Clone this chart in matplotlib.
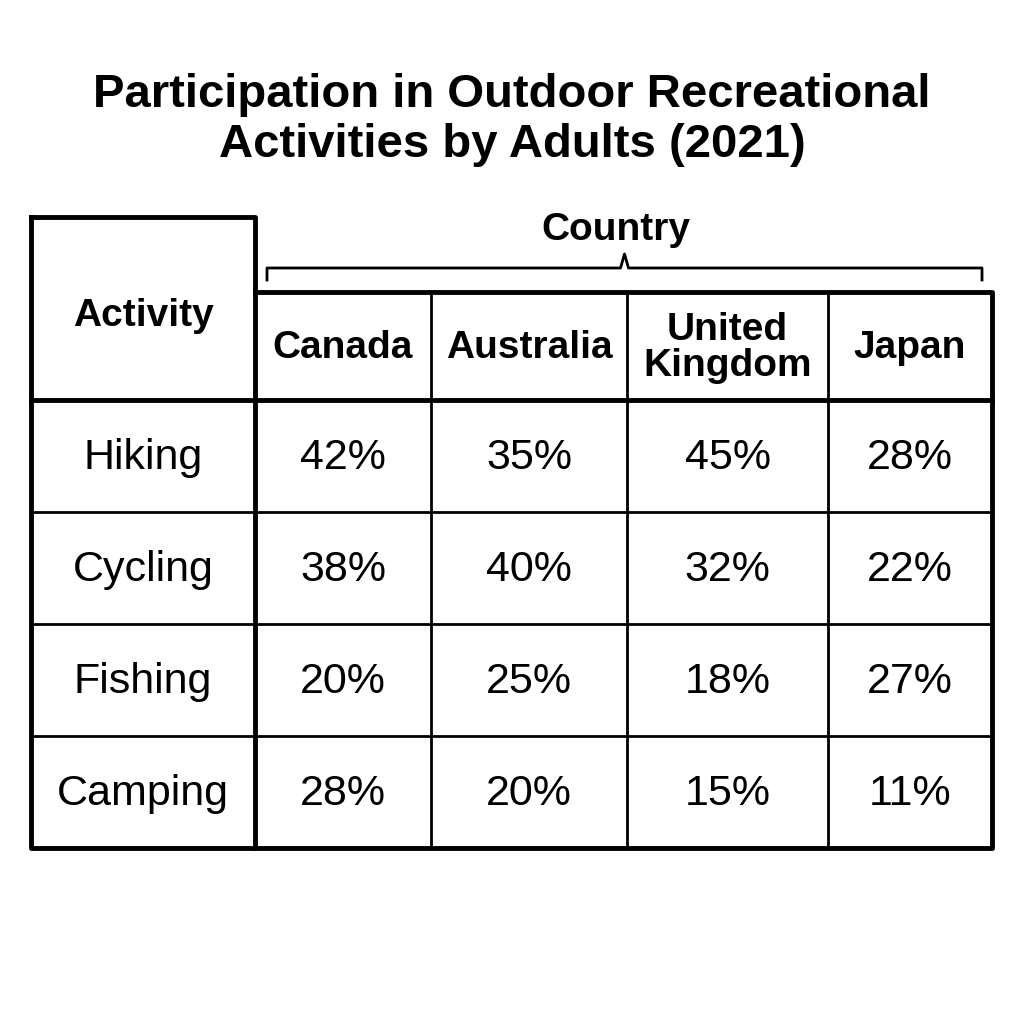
import matplotlib
matplotlib.use("Agg")
import matplotlib.pyplot as plt
from matplotlib import font_manager

activities = ["Hiking", "Cycling", "Fishing", "Camping"]
countries = ["Canada", "Australia", "United\nKingdom", "Japan"]
values = [
    [42, 35, 45, 28],
    [38, 40, 32, 22],
    [20, 25, 18, 27],
    [28, 20, 15, 11],
]
title = "Participation in Outdoor Recreational\nActivities by Adults (2021)"

names = {f.name for f in font_manager.fontManager.ttflist}
fam = "Liberation Sans Narrow" if "Liberation Sans Narrow" in names else "Liberation Sans"
plt.rcParams['font.family'] = [fam, 'DejaVu Sans']

fig = plt.figure(figsize=(10.24, 10.24), dpi=100)
ax = fig.add_axes([0, 0, 1, 1])
ax.set_xlim(0, 1024); ax.set_ylim(1024, 0); ax.axis('off')

xs = [31, 255, 431, 627, 828, 992]
ys = [400, 512, 624, 736, 848]
top_act, top_cty = 217, 292

ax.text(512, 120, title, ha='center', va='center', fontsize=34, fontweight='bold', linespacing=1.2)

k = dict(color='black', solid_capstyle='projecting')
# outer borders
ax.plot([xs[0], xs[1], xs[1], xs[0], xs[0]], [top_act, top_act, ys[-1], ys[-1], top_act], lw=3.5, **k)
ax.plot([xs[1], xs[-1], xs[-1], xs[1]], [top_cty, top_cty, ys[-1], ys[-1]], lw=3.5, **k)
ax.plot([xs[0], xs[-1]], [ys[0], ys[0]], lw=3.5, **k)
for x in xs[2:-1]:
    ax.plot([x, x], [top_cty, ys[-1]], lw=2, **k)
for y in ys[1:-1]:
    ax.plot([xs[0], xs[-1]], [y, y], lw=2, **k)

# brace
bx0, bx1, by, mid = 267, 982, 268, (267 + 982) / 2
ax.plot([bx0, bx0, mid - 4, mid, mid + 4, bx1, bx1],
        [by + 12, by, by, by - 14, by, by, by + 12], lw=2, color='black')
ax.text(616, 230, "Country", ha='center', va='center', fontsize=28, fontweight='bold')
ax.text((xs[0] + xs[1]) / 2, 316, "Activity", ha='center', va='center', fontsize=28, fontweight='bold')

for j, c in enumerate(countries):
    ax.text((xs[j + 1] + xs[j + 2]) / 2, 348, c, ha='center', va='center',
            fontsize=28, fontweight='bold', linespacing=1.0)

for i, a in enumerate(activities):
    yc = (ys[i] + ys[i + 1]) / 2 + 2
    ax.text((xs[0] + xs[1]) / 2, yc, a, ha='center', va='center', fontsize=31)
    for j in range(len(countries)):
        ax.text((xs[j + 1] + xs[j + 2]) / 2, yc, f"{values[i][j]}%", ha='center', va='center', fontsize=31)

fig.savefig("out.png", dpi=100, facecolor='white')
